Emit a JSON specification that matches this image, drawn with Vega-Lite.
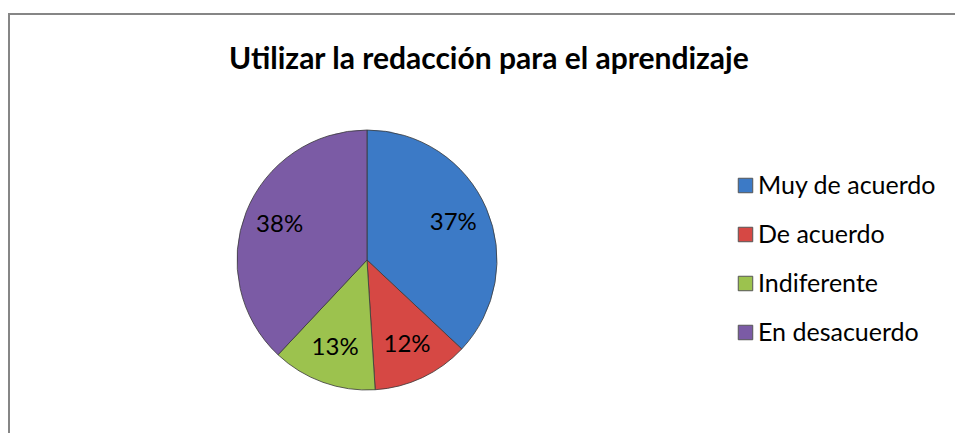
{
  "$schema": "https://vega.github.io/schema/vega-lite/v6.json",
  "autosize": {"type": "none"},
  "padding": {"left": 9, "top": 14, "right": -254, "bottom": -181},
  "width": 1200,
  "height": 600,
  "background": "white",
  "view": {"stroke": "#868686", "strokeWidth": 2, "fill": "white"},
  "config": {
    "font": "Lato"
  },
  "title": {
    "text": "Utilizar la redacción para el aprendizaje",
    "font": "Lato",
    "fontSize": 30,
    "fontWeight": "bold",
    "color": "#000000",
    "anchor": "start",
    "frame": "group",
    "baseline": "alphabetic",
    "dx": 220,
    "dy": 89
  },
  "data": {
    "values": [
      {"categoria": "Muy de acuerdo", "pct": 0.37, "orden": 1},
      {"categoria": "De acuerdo", "pct": 0.12, "orden": 2},
      {"categoria": "Indiferente", "pct": 0.13, "orden": 3},
      {"categoria": "En desacuerdo", "pct": 0.38, "orden": 4}
    ]
  },
  "encoding": {
    "theta": {"field": "pct", "type": "quantitative", "stack": true},
    "order": {"field": "orden", "type": "quantitative"},
    "color": {
      "field": "categoria",
      "type": "nominal",
      "scale": {
        "domain": ["Muy de acuerdo", "De acuerdo", "Indiferente", "En desacuerdo"],
        "range": ["#3C7AC6", "#D64844", "#9CC24E", "#7B5BA5"]
      },
      "legend": {
        "title": null,
        "orient": "none",
        "legendX": 724,
        "legendY": 159,
        "symbolType": "square",
        "symbolSize": 210,
        "symbolStrokeWidth": 1,
        "symbolStrokeColor": "#555555",
        "labelFont": "Lato",
        "labelFontSize": 25,
        "labelColor": "#000000",
        "labelOffset": 0,
        "rowPadding": 23,
        "labelLimit": 300
      }
    }
  },
  "layer": [
    {
      "mark": {
        "type": "arc",
        "outerRadius": 130,
        "x": {"expr": "width*0.29833"},
        "y": {"expr": "height*0.41"},
        "stroke": "#3a3a3a",
        "strokeWidth": 0.8
      }
    },
    {
      "mark": {
        "type": "text",
        "radius": 94,
        "x": {"expr": "width*0.29833"},
        "y": {"expr": "height*0.41"},
        "fontSize": 24,
        "font": "Lato",
        "color": "#000000"
      },
      "encoding": {
        "text": {"field": "pct", "type": "quantitative", "format": ".0%"},
        "color": {"value": "#000000"}
      }
    }
  ]
}
